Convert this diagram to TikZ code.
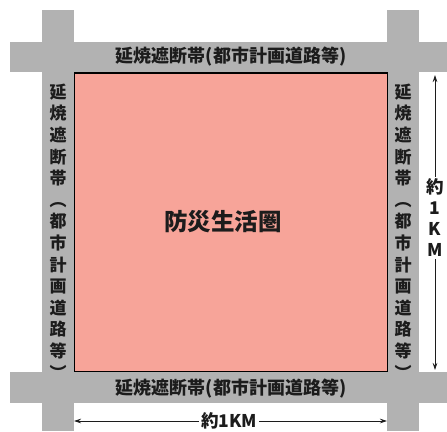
\documentclass[tikz,border=0pt]{standalone}
\usepackage{fontspec}
\newfontfamily\jp{Noto Sans CJK JP}
\usetikzlibrary{arrows.meta}
\definecolor{band}{RGB}{178,178,178}
\definecolor{zone}{RGB}{247,164,153}
\definecolor{ink}{RGB}{28,28,28}
\begin{document}
\begin{tikzpicture}[x=1pt,y=-1pt,
  bandlabel/.style={font=\jp\bfseries\fontsize{17}{21.6}\selectfont, text=ink, inner sep=0pt, align=center},
  hlabel/.style={bandlabel, font=\jp\bfseries\fontsize{18}{21.6}\selectfont},
  dimlabel/.style={font=\jp\bfseries\fontsize{17.5}{21}\selectfont, text=ink, inner sep=2pt, align=center, fill=white},
  dim/.style={-{Stealth[length=7pt,width=4.5pt]}, line width=0.7pt, draw=ink}]
\useasboundingbox (0,0) rectangle (447,431);
\fill[white] (0,0) rectangle (447,431);
% roads
\fill[band] (10,42) rectangle (447,72);
\fill[band] (10,372) rectangle (447,403);
\fill[band] (42,10) rectangle (74,431);
\fill[band] (387,10) rectangle (419,431);
% zone
\filldraw[fill=zone, draw=black, line width=1.5pt] (74.5,73) rectangle (387.5,371.5);
\node[font=\jp\bfseries\fontsize{23.5}{28}\selectfont, text=ink] (zone) at (223,222) {防災生活圏};
% band labels
\node[hlabel] (top) at (231,57) {延焼遮断帯(都市計画道路等)};
\node[hlabel] (bottom) at (231,389) {延焼遮断帯(都市計画道路等)};
\node[bandlabel] (left) at (58,231.5) {延\\焼\\遮\\断\\帯\\︵\\都\\市\\計\\画\\道\\路\\等\\︶};
\node[bandlabel] (right) at (403,231.5) {延\\焼\\遮\\断\\帯\\︵\\都\\市\\計\\画\\道\\路\\等\\︶};
% dimensions
\coordinate (dl) at (74,421);
\coordinate (dr) at (387,421);
\node[dimlabel] (dimh) at (229,421) {約1KM};
\draw[dim] (dimh.west) -- (dl);
\draw[dim] (dimh.east) -- (dr);
\coordinate (dt) at (435,75);
\coordinate (db) at (435,370);
\node[dimlabel] (dimv) at (435,218) {約\\1\\K\\M};
\draw[dim] (dimv.north) -- (dt);
\draw[dim] (dimv.south) -- (db);
\end{tikzpicture}
\end{document}
